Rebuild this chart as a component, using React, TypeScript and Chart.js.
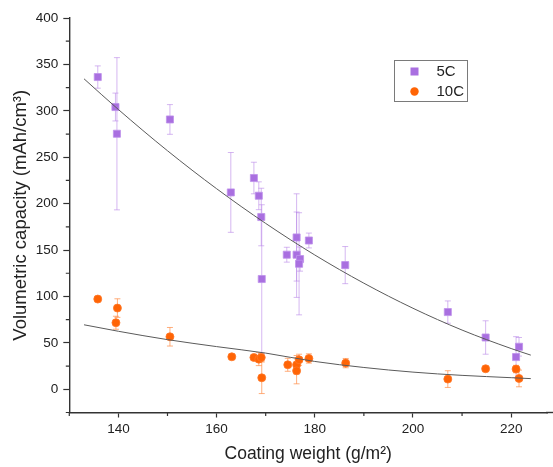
import { useEffect, useRef } from "react";
import { Chart, registerables } from "chart.js";

Chart.register(...registerables);

// ---- data ----
const weight5C = [135.8, 139.4, 139.7, 150.5, 162.9, 167.6, 168.6, 169.1, 169.2, 174.3, 176.3, 176.3, 177.0, 176.8, 178.8, 186.2, 207.1, 214.8, 221.0, 221.6];
const capacity5C = [336.4, 304.1, 275.3, 290.7, 212.1, 227.6, 208.5, 185.6, 118.8, 145.0, 163.6, 145.0, 140.3, 135.2, 160.3, 133.8, 83.2, 55.8, 34.7, 45.8];
const error5C = [12, 15, 82, 16, 43, 17, 15, 31, 80, 8, 47, 46, 13, 55, 8, 20, 12, 18, 22, 10];

const weight10C = [135.8, 139.8, 139.5, 150.5, 163.1, 167.6, 168.6, 169.1, 169.2, 174.5, 176.3, 176.3, 176.8, 178.8, 186.3, 207.1, 214.8, 221.0, 221.6];
const capacity10C = [97.2, 87.5, 71.7, 56.6, 35.0, 34.3, 32.5, 34.3, 12.4, 26.4, 26.4, 19.9, 31.8, 33.2, 28.2, 11.0, 22.1, 21.8, 11.7];
const error10C = [3, 10, 7, 10, 3, 3, 7, 4, 17, 7, 10, 14, 6, 5, 5, 9, 3, 4, 9];

const fitWeight = [133, 140, 150, 160, 170, 180, 190, 200, 210, 220, 224];
const fit5C = [334.5, 301.4, 257.0, 216.1, 178.7, 144.7, 114.3, 87.3, 63.8, 43.9, 36.8];
const fit10C = [69.5, 62.5, 53.5, 46.0, 39.0, 30.0, 23.5, 18.5, 15.0, 12.5, 11.5];

const xTicks = [140, 160, 180, 200, 220];
const xMinorTicks = [130, 150, 170, 190, 210];
const yTicks = [0, 50, 100, 150, 200, 250, 300, 350, 400];
const yMinorTicks = [-25, 25, 75, 125, 175, 225, 275, 325, 375];

const seriesNames = ["5C", "10C"];

const PURPLE = "#A96FE0";
const PURPLE_ERR = "rgba(185,135,232,0.6)";
const ORANGE = "#FF6405";
const ORANGE_ERR = "rgba(255,140,70,0.7)";
const AXIS = "#333333";
const TEXT = "#222222";

const errorBarPlugin = {
  id: "errorBars",
  beforeDatasetsDraw(chart: any) {
    const { ctx } = chart;
    const yScale = chart.scales.y;
    chart.data.datasets.forEach((ds: any, i: number) => {
      if (!ds.errors) return;
      const meta = chart.getDatasetMeta(i);
      ctx.save();
      ctx.strokeStyle = ds.errorColor;
      ctx.lineWidth = 1;
      meta.data.forEach((pt: any, j: number) => {
        const v = ds.data[j].y;
        const e = ds.errors[j];
        const top = yScale.getPixelForValue(v + e);
        const bot = yScale.getPixelForValue(v - e);
        const x = pt.x;
        ctx.beginPath();
        ctx.moveTo(x, top);
        ctx.lineTo(x, bot);
        ctx.moveTo(x - 3, top);
        ctx.lineTo(x + 3, top);
        ctx.moveTo(x - 3, bot);
        ctx.lineTo(x + 3, bot);
        ctx.stroke();
      });
      ctx.restore();
    });
  },
};

const minorTickPlugin = {
  id: "minorTicks",
  afterDraw(chart: any) {
    const { ctx, chartArea } = chart;
    const xs = chart.scales.x;
    const ys = chart.scales.y;
    ctx.save();
    ctx.strokeStyle = AXIS;
    ctx.lineWidth = 1.2;
    ctx.beginPath();
    xMinorTicks.forEach((v) => {
      const px = xs.getPixelForValue(v);
      ctx.moveTo(px, chartArea.bottom);
      ctx.lineTo(px, chartArea.bottom + 3.5);
    });
    yMinorTicks.forEach((v) => {
      const py = ys.getPixelForValue(v);
      ctx.moveTo(chartArea.left - 3.5, py);
      ctx.lineTo(chartArea.left, py);
    });
    ctx.stroke();
    // axis line continues to the right edge of the picture
    ctx.lineWidth = 1.4;
    ctx.beginPath();
    ctx.moveTo(chartArea.right - 1, chartArea.bottom);
    ctx.lineTo(chart.width, chartArea.bottom);
    ctx.stroke();
    ctx.restore();
  },
};

const legendPlugin = {
  id: "boxLegend",
  afterDraw(chart: any) {
    const { ctx } = chart;
    const bx = 394.5;
    const by = 60.5;
    const bw = 73;
    const bh = 41;
    ctx.save();
    ctx.fillStyle = "#ffffff";
    ctx.fillRect(bx, by, bw, bh);
    ctx.strokeStyle = "#7a7a7a";
    ctx.lineWidth = 1;
    ctx.strokeRect(bx, by, bw, bh);
    ctx.fillStyle = PURPLE;
    ctx.fillRect(410.5, 67.5, 8, 8);
    ctx.fillStyle = ORANGE;
    ctx.beginPath();
    ctx.arc(414.5, 91.5, 4.2, 0, Math.PI * 2);
    ctx.fill();
    ctx.fillStyle = TEXT;
    ctx.font = "15px Arial, 'Liberation Sans', sans-serif";
    ctx.textBaseline = "middle";
    ctx.textAlign = "left";
    ctx.fillText(seriesNames[0], 436.5, 72);
    ctx.fillText(seriesNames[1], 436.5, 92);
    ctx.restore();
  },
};

export default function App() {
  const canvasRef = useRef<HTMLCanvasElement | null>(null);

  useEffect(() => {
    if (!canvasRef.current) return;
    Chart.defaults.font.family = "Arial, 'Liberation Sans', sans-serif";
    const chart = new Chart(canvasRef.current, {
      type: "scatter",
      data: {
        datasets: [
          {
            label: "fit 5C",
            data: fitWeight.map((x, i) => ({ x, y: fit5C[i] })),
            showLine: true,
            pointRadius: 0,
            borderColor: "#5a5a5a",
            borderWidth: 1,
            cubicInterpolationMode: "monotone",
          } as any,
          {
            label: "fit 10C",
            data: fitWeight.map((x, i) => ({ x, y: fit10C[i] })),
            showLine: true,
            pointRadius: 0,
            borderColor: "#5a5a5a",
            borderWidth: 1,
            cubicInterpolationMode: "monotone",
          } as any,
          {
            label: seriesNames[0],
            data: weight5C.map((x, i) => ({ x, y: capacity5C[i] })),
            pointStyle: "rect",
            pointRadius: 5,
            backgroundColor: PURPLE,
            borderColor: "rgba(190,145,235,0.8)",
            borderWidth: 1,
            errors: error5C,
            errorColor: PURPLE_ERR,
          } as any,
          {
            label: seriesNames[1],
            data: weight10C.map((x, i) => ({ x, y: capacity10C[i] })),
            pointStyle: "circle",
            pointRadius: 4,
            backgroundColor: ORANGE,
            borderColor: "rgba(255,120,40,0.8)",
            borderWidth: 1,
            errors: error10C,
            errorColor: ORANGE_ERR,
          } as any,
        ],
      },
      options: {
        animation: false,
        responsive: false,
        layout: { padding: { top: 18, right: 0, left: 0, bottom: 0 } },
        plugins: {
          legend: { display: false },
          tooltip: { enabled: false },
        },
        scales: {
          x: {
            type: "linear",
            min: 130,
            max: 227.3,
            afterBuildTicks: (scale: any) => {
              scale.ticks = xTicks.map((value) => ({ value }));
            },
            afterFit: (scale: any) => {
              scale.height = 54.5;
            },
            border: { display: true, color: AXIS, width: 1.4 },
            grid: { drawOnChartArea: false, drawTicks: true, tickLength: 5, tickColor: AXIS, tickWidth: 1.2 },
            ticks: { color: TEXT, font: { size: 13.5 }, padding: 4, maxRotation: 0 },
            title: {
              display: true,
              text: "Coating weight (g/m²)",
              color: TEXT,
              font: { size: 17.5 },
              padding: { top: 0, bottom: 2 },
            },
          },
          y: {
            type: "linear",
            min: -25,
            max: 400,
            afterBuildTicks: (scale: any) => {
              scale.ticks = yTicks.map((value) => ({ value }));
            },
            afterFit: (scale: any) => {
              scale.width = 69.3;
            },
            border: { display: true, color: AXIS, width: 1.4 },
            grid: { drawOnChartArea: false, drawTicks: true, tickLength: 6, tickColor: AXIS, tickWidth: 1.2 },
            ticks: { color: TEXT, font: { size: 13.5 }, padding: 5 },
            title: {
              display: true,
              text: "Volumetric capacity (mAh/cm³)",
              color: TEXT,
              font: { size: 18.5 },
              padding: { top: 10, bottom: 0 },
            },
          },
        },
      },
      plugins: [errorBarPlugin, minorTickPlugin, legendPlugin],
    });
    return () => chart.destroy();
  }, []);

  return (
    <div style={{ position: "absolute", left: 0, top: 0, width: 553, height: 467, background: "#fff" }}>
      <canvas ref={canvasRef} width={553} height={467} style={{ display: "block" }} />
    </div>
  );
}
